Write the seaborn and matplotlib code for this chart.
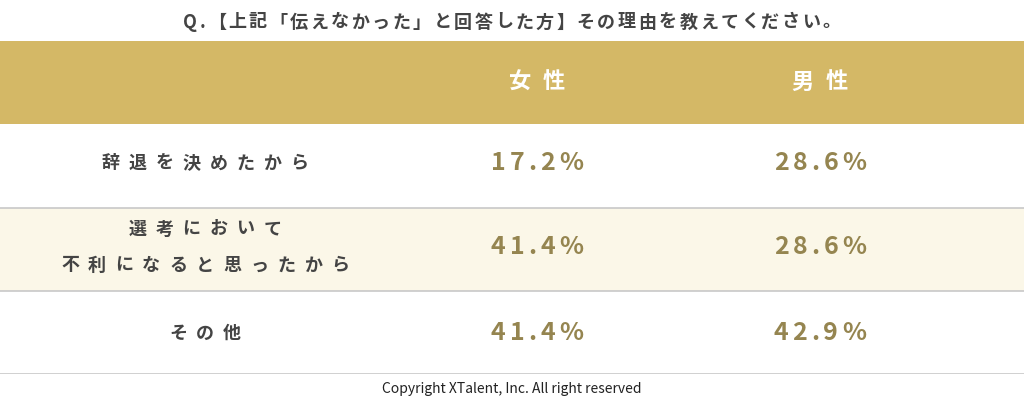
import matplotlib
matplotlib.use("Agg")
import matplotlib.pyplot as plt
import seaborn as sns
import numpy as np
from matplotlib.colors import ListedColormap
from matplotlib.font_manager import FontProperties

sns.set_theme(style="white")
plt.rcParams['font.family'] = ['Noto Sans CJK JP', 'DejaVu Sans']

title = "Q.【上記「伝えなかった」と回答した方】その理由を教えてください。"
columns = ["女性", "男性"]
reasons = [["辞退を決めたから"], ["選考において", "不利になると思ったから"], ["その他"]]
female = [17.2, 41.4, 41.4]
male = [28.6, 28.6, 42.9]
footer = "Copyright XTalent, Inc. All right reserved"

W, H = 1024, 402
fig = plt.figure(figsize=(W/100, H/100), dpi=100)
fig.patch.set_facecolor("white")
ax = fig.add_axes([0, (H-375)/H, 1, (375-42)/H])
bg = np.array([[0], [1], [2], [1]])
cmap = ListedColormap(["#D4B866", "#FFFFFF", "#FBF7E8"])
sns.heatmap(bg, ax=ax, cmap=cmap, cbar=False, vmin=0, vmax=2,
            xticklabels=False, yticklabels=False)
ax.set_xlim(0, 1)
for y in [2, 3, 4]:
    ax.axhline(y, color="#C8C8C8", lw=1.2)

renderer = fig.canvas.get_renderer()

def spaced(cx, cy, s, size, color, spacing, weight="bold"):
    """Draw text centred at pixel (cx, cy from top) with letter spacing in px."""
    fp = FontProperties(family=['Noto Sans CJK JP', 'DejaVu Sans'], size=size, weight=weight)
    widths = [renderer.get_text_width_height_descent(ch, fp, ismath=False)[0] for ch in s]
    total = sum(widths) + spacing * (len(s) - 1)
    x = cx - total / 2
    for ch, w in zip(s, widths):
        fig.text(x / W, 1 - cy / H, ch, ha="left", va="center", color=color,
                 fontproperties=fp)
        x += w + spacing

row_y = [163, 247, 333]
xc = [537, 820]
for x, c in zip(xc, columns):
    spaced(x, 82, c, 16, "white", 12)
for i, (r, f, m) in enumerate(zip(reasons, female, male)):
    y = row_y[i]
    n = len(r)
    for j, line in enumerate(r):
        spaced(205, y + (j - (n - 1) / 2) * 36, line, 13, "#444444", 9)
    spaced(xc[0], y, f"{f:.1f}%", 18, "#958550", 4)
    spaced(xc[1], y, f"{m:.1f}%", 18, "#958550", 4)

spaced(512, 22, title, 13, "#444444", 2.5)
fig.text(0.5, 1 - 389/H, footer, ha="center", va="center", color="#222222",
         fontsize=10)
fig.savefig("out.png", dpi=100)
